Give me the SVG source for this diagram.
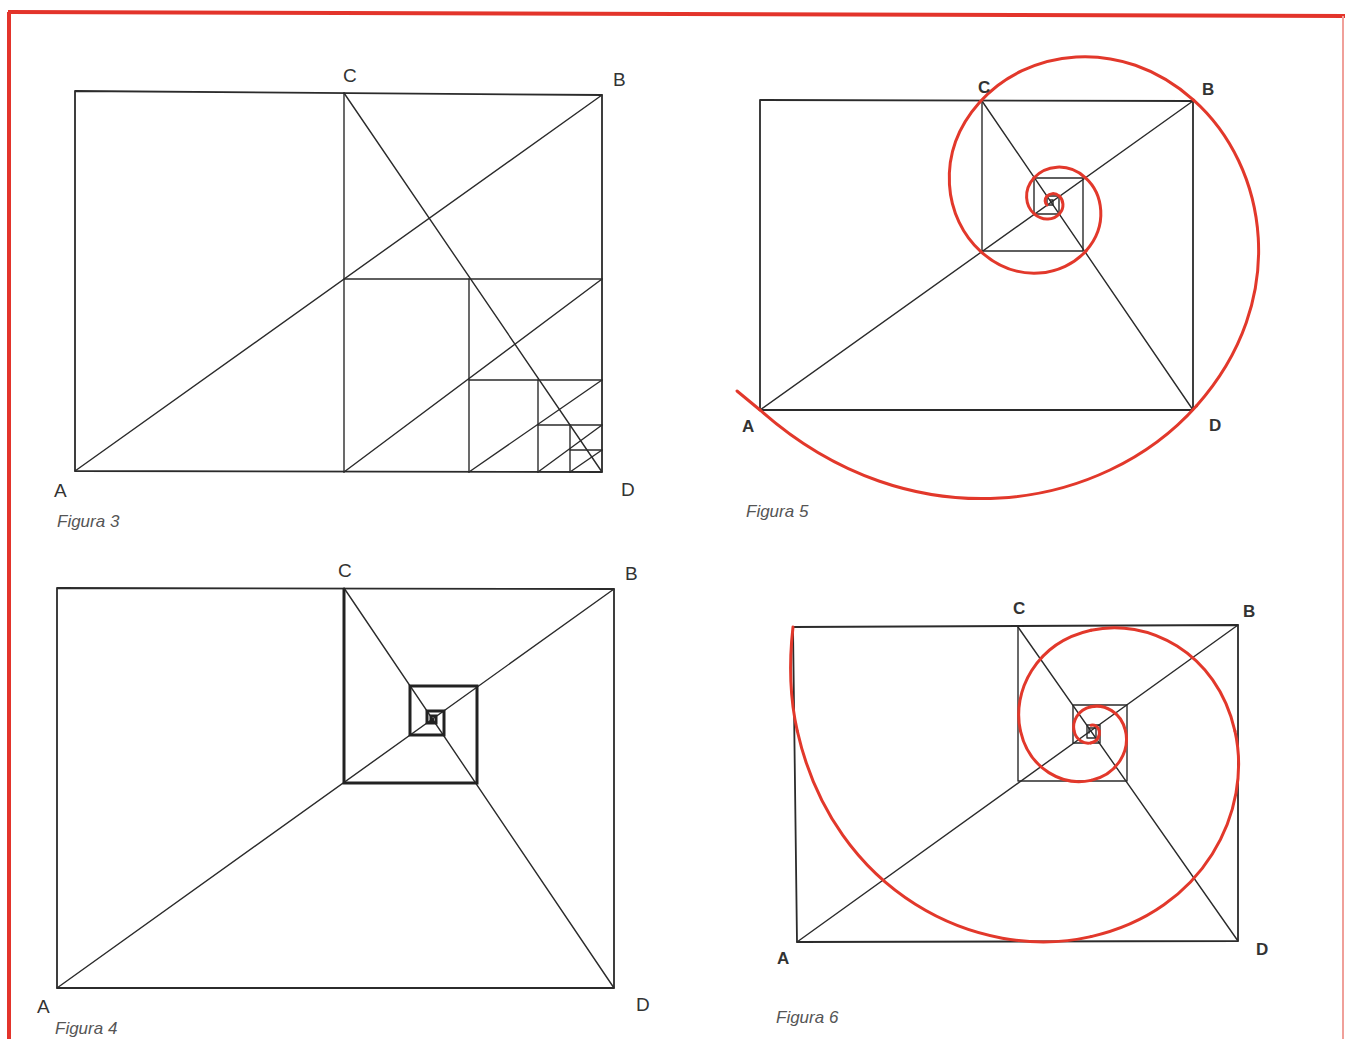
<svg xmlns="http://www.w3.org/2000/svg" xmlns:xlink="http://www.w3.org/1999/xlink" width="1345" height="1039" viewBox="0 0 1345 1039">
<style>
.ln{fill:none;stroke:#2b2b2b;stroke-width:1.4;stroke-linecap:round;stroke-linejoin:round}
.rc{fill:none;stroke:#2b2b2b;stroke-width:1.8;stroke-linejoin:round}
.thk{fill:none;stroke:#222;stroke-width:3;stroke-linejoin:miter}
.red{fill:none;stroke:#e2382b;stroke-width:3;stroke-linecap:round}
.lb{font-family:"Liberation Sans",Arial,sans-serif;font-size:19px;fill:#333}
.lbb{font-family:"Liberation Sans",Arial,sans-serif;font-size:17px;font-weight:bold;fill:#333}
.fig{font-family:"Liberation Sans",Arial,sans-serif;font-size:17px;font-style:italic;fill:#555}
</style>
<defs>
<path id="s5" class="red" vector-effect="non-scaling-stroke" d="M760,410 C911.4,544.6 1102.4,511.7 1196.6,405.7"/>
<path id="s6" class="red" vector-effect="non-scaling-stroke" d="M797.3,731 C834.1,893.2 977.4,962.4 1091,936.6"/>
</defs>
<rect width="1345" height="1039" fill="#fff"/>
<g id="border">
<line x1="8" y1="12" x2="1345" y2="16" stroke="#e3342b" stroke-width="4"/>
<line x1="9" y1="12" x2="9" y2="1039" stroke="#e3342b" stroke-width="4"/>
<line x1="1343" y1="16" x2="1343" y2="1039" stroke="#f0a09a" stroke-width="2"/>
</g>

<g id="figura3">
<polygon class="rc" points="75,91 602,95 602,472 75,471"/>
<g id="fig3-lines">
<line class="ln" x1="344" y1="93" x2="344" y2="472"/>
<line class="ln" x1="75" y1="471" x2="602" y2="95"/>
<line class="ln" x1="344" y1="93" x2="602" y2="472"/>
<line class="ln" x1="344" y1="279" x2="602" y2="279"/>
<line class="ln" x1="469" y1="279" x2="469" y2="472"/>
<line class="ln" x1="344" y1="472" x2="602" y2="279"/>
<line class="ln" x1="469" y1="380" x2="602" y2="380"/>
<line class="ln" x1="538" y1="380" x2="538" y2="472"/>
<line class="ln" x1="469" y1="472" x2="602" y2="380"/>
<line class="ln" x1="538" y1="425" x2="602" y2="425"/>
<line class="ln" x1="570" y1="425" x2="570" y2="472"/>
<line class="ln" x1="538" y1="472" x2="602" y2="425"/>
<line class="ln" x1="570" y1="450" x2="602" y2="450"/>
<line class="ln" x1="570" y1="472" x2="602" y2="450"/>
</g>
<text class="lb" x="343" y="82">C</text>
<text class="lb" x="613" y="86">B</text>
<text class="lb" x="54" y="497">A</text>
<text class="lb" x="621" y="496">D</text>
<text class="fig" x="57" y="527">Figura 3</text>
</g>

<g id="figura4">
<polygon class="rc" points="57,588 614,589 614,988 57,988"/>
<g id="fig4-lines">
<line class="ln" x1="57" y1="988" x2="614" y2="589"/>
<line class="ln" x1="344" y1="588" x2="614" y2="988"/>
<polyline class="thk" points="344,588 344,783 477,783 477,686 410,686 410,735 444,735 444,711 427,711 427,723 436,723 436,716 431,716 431,720 434,720"/>
</g>
<text class="lb" x="338" y="577">C</text>
<text class="lb" x="625" y="580">B</text>
<text class="lb" x="37" y="1013">A</text>
<text class="lb" x="636" y="1011">D</text>
<text class="fig" x="55" y="1034">Figura 4</text>
</g>

<g id="figura5">
<polygon class="rc" points="760,100 1193,101 1193,410 760,410"/>
<g id="fig5-lines">
<line class="ln" x1="760" y1="410" x2="1193" y2="101"/>
<line class="ln" x1="982" y1="101" x2="1193" y2="410"/>
<polyline class="ln" points="982,101 982,251 1083,251 1083,178 1034,178 1034,214 1059,214 1059,196 1047,196 1047,205 1053,205 1053,200 1050,200"/>
</g>
<g id="fig5-spiral">
<path class="red" d="M737,391 L760,410"/>
<use href="#s5"/>
<g transform="matrix(0,-0.7,0.7,0,909.6,937.7)"><use href="#s5"/>
<g transform="matrix(0,-0.7,0.7,0,909.6,937.7)"><use href="#s5"/>
<g transform="matrix(0,-0.7,0.7,0,909.6,937.7)"><use href="#s5"/>
<g transform="matrix(0,-0.7,0.7,0,909.6,937.7)"><use href="#s5"/>
<g transform="matrix(0,-0.7,0.7,0,909.6,937.7)"><use href="#s5"/>
<g transform="matrix(0,-0.7,0.7,0,909.6,937.7)"><use href="#s5"/>
<g transform="matrix(0,-0.7,0.7,0,909.6,937.7)"><use href="#s5"/>
<g transform="matrix(0,-0.7,0.7,0,909.6,937.7)"><use href="#s5"/>
<g transform="matrix(0,-0.7,0.7,0,909.6,937.7)"><use href="#s5"/>
<g transform="matrix(0,-0.7,0.7,0,909.6,937.7)"><use href="#s5"/>
<g transform="matrix(0,-0.7,0.7,0,909.6,937.7)"><use href="#s5"/>
</g></g></g></g></g></g></g></g></g></g></g>
</g>
<text class="lbb" x="978" y="93">C</text>
<text class="lbb" x="1202" y="95">B</text>
<text class="lbb" x="742" y="432">A</text>
<text class="lbb" x="1209" y="431">D</text>
<text class="fig" x="746" y="517">Figura 5</text>
</g>

<g id="figura6">
<polygon class="rc" points="793,627 1238,625 1238,941 797,942"/>
<g id="fig6-lines">
<line class="ln" x1="797" y1="942" x2="1238" y2="625"/>
<line class="ln" x1="1018" y1="627" x2="1238" y2="941"/>
<polyline class="ln" points="1018,627 1018,781 1127,781 1127,705 1073,705 1073,743 1100,743 1100,725 1087,725 1087,738 1096,738 1096,728 1089,728 1089,733"/>
</g>
<g id="fig6-spiral">
<path class="red" d="M793,627 C788.9,663.2 789.8,698.1 797.3,731"/>
<use href="#s6"/>
<g transform="matrix(0,-0.7,0.7,0,579.3,1494.7)"><use href="#s6"/>
<g transform="matrix(0,-0.7,0.7,0,579.3,1494.7)"><use href="#s6"/>
<g transform="matrix(0,-0.7,0.7,0,579.3,1494.7)"><use href="#s6"/>
<g transform="matrix(0,-0.7,0.7,0,579.3,1494.7)"><use href="#s6"/>
<g transform="matrix(0,-0.7,0.7,0,579.3,1494.7)"><use href="#s6"/>
<g transform="matrix(0,-0.7,0.7,0,579.3,1494.7)"><use href="#s6"/>
<g transform="matrix(0,-0.7,0.7,0,579.3,1494.7)"><use href="#s6"/>
<g transform="matrix(0,-0.7,0.7,0,579.3,1494.7)"><use href="#s6"/>
<g transform="matrix(0,-0.7,0.7,0,579.3,1494.7)"><use href="#s6"/>
<g transform="matrix(0,-0.7,0.7,0,579.3,1494.7)"><use href="#s6"/>
</g></g></g></g></g></g></g></g></g></g>
</g>
<text class="lbb" x="1013" y="614">C</text>
<text class="lbb" x="1243" y="617">B</text>
<text class="lbb" x="777" y="964">A</text>
<text class="lbb" x="1256" y="955">D</text>
<text class="fig" x="776" y="1023">Figura 6</text>
</g>
</svg>
